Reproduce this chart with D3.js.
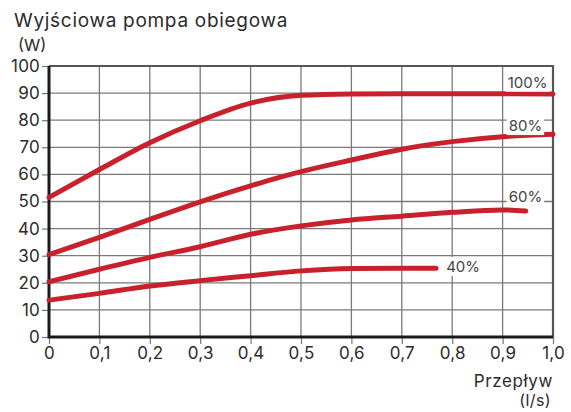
<!DOCTYPE html>
<html>
<head>
<meta charset="utf-8">
<script src="https://cdn.jsdelivr.net/npm/d3@7"></script>
<style>
  body { margin: 0; background: #fff; }
  svg text { font-family: Inter, "Open Sans", sans-serif; fill: #2b2b2b; }
</style>
</head>
<body>
<svg id="chart" width="571" height="412"></svg>
<script>
// flow (l/s) and pump output (W)
const flow = [0, 0.1, 0.2, 0.3, 0.4, 0.5, 0.6, 0.7, 0.8, 0.9, 1.0];
const p100 = [51.5, 61.8, 71.7, 79.8, 86.3, 89.2, 89.7, 89.8, 89.8, 89.8, 89.7];
const p80 = [30.4, 36.8, 43.4, 49.9, 55.8, 61.0, 65.3, 69.3, 72.1, 73.9, 74.8];
const flow60 = [0, 0.1, 0.2, 0.3, 0.4, 0.5, 0.6, 0.7, 0.8, 0.9, 0.946];
const p60 = [20.4, 25.0, 29.4, 33.3, 37.9, 41.0, 43.2, 44.6, 46.0, 46.9, 46.5];
const flow40 = [0, 0.1, 0.2, 0.3, 0.4, 0.5, 0.6, 0.7, 0.768];
const p40 = [13.6, 16.1, 18.8, 20.8, 22.6, 24.4, 25.3, 25.4, 25.4];

const xTicks = [0, 0.1, 0.2, 0.3, 0.4, 0.5, 0.6, 0.7, 0.8, 0.9, 1.0];
const xTickLabels = ["0", "0,1", "0,2", "0,3", "0,4", "0,5", "0,6", "0,7", "0,8", "0,9", "1,0"];
const yTicks = [0, 10, 20, 30, 40, 50, 60, 70, 80, 90, 100];

const series = [
  { name: "100%", xs: flow, ys: p100 },
  { name: "80%", xs: flow, ys: p80 },
  { name: "60%", xs: flow60, ys: p60 },
  { name: "40%", xs: flow40, ys: p40 }
];

const svg = d3.select("#chart");
const x = d3.scaleLinear().domain([0, 1]).range([49, 553]);
const y = d3.scaleLinear().domain([0, 100]).range([337, 66]);

// grid
const grid = svg.append("g").attr("stroke", "#7a7a7a").attr("stroke-width", 1.3);
xTicks.slice(1, -1).forEach(v => {
  grid.append("line").attr("x1", x(v)).attr("x2", x(v)).attr("y1", y(0)).attr("y2", y(100));
});
yTicks.slice(1, -1).forEach(v => {
  grid.append("line").attr("x1", x(0)).attr("x2", x(1)).attr("y1", y(v)).attr("y2", y(v));
});

// frame top/right
svg.append("path")
  .attr("d", `M${x(0)},${y(100)}H${x(1)}V${y(0)}`)
  .attr("fill", "none").attr("stroke", "#555").attr("stroke-width", 2.2);

// axes
const yAxis = svg.append("g").attr("transform", `translate(${x(0)},0)`)
  .call(d3.axisLeft(y).tickValues(yTicks).tickSize(7).tickPadding(2));
const xAxis = svg.append("g").attr("transform", `translate(0,${y(0)})`)
  .call(d3.axisBottom(x).tickValues(xTicks).tickFormat((d, i) => xTickLabels[i]).tickSize(7).tickPadding(3));
[yAxis, xAxis].forEach(a => {
  a.select(".domain").remove();
  a.selectAll(".tick line").attr("stroke", "#777").attr("stroke-width", 1.2);
  a.selectAll(".tick text").attr("font-size", 17).style("fill", "#2b2b2b").style("letter-spacing", "0.2px");
});

svg.append("path")
  .attr("d", `M${x(0)},${y(100)}V${y(0)}H${x(1)}`)
  .attr("fill", "none").attr("stroke", "#1a1a1a").attr("stroke-width", 3);

// curves
const line = d3.line().curve(d3.curveMonotoneX);
series.forEach(s => {
  svg.append("path")
    .attr("d", line(s.xs.map((v, i) => [x(v), y(s.ys[i])])))
    .attr("fill", "none")
    .attr("stroke", "#c8212b")
    .attr("stroke-width", 5)
    .attr("stroke-linecap", "round");
});

// series labels with white boxes
const labels = [
  { text: "100%", lx: 0.91, ly: 93.5 },
  { text: "80%", lx: 0.912, ly: 77.5 },
  { text: "60%", lx: 0.912, ly: 51.5 },
  { text: "40%", lx: 0.788, ly: 25.5 }
];
labels.forEach(l => {
  const g = svg.append("g");
  const t = g.append("text")
    .attr("x", x(l.lx)).attr("y", y(l.ly))
    .attr("font-size", 15).attr("dominant-baseline", "middle")
    .style("fill", "#444")
    .text(l.text);
  const b = t.node().getBBox();
  g.insert("rect", "text")
    .attr("x", b.x - 2).attr("y", b.y).attr("width", b.width + 4).attr("height", b.height)
    .attr("fill", "#fff");
});

// titles
svg.append("text").attr("x", 14).attr("y", 27).attr("font-size", 19).style("letter-spacing", "0.7px").text("Wyjściowa pompa obiegowa");
svg.append("text").attr("x", 18).attr("y", 51).attr("font-size", 16.5).text("(W)");
svg.append("text").attr("x", 553).attr("y", 387).attr("font-size", 17).style("letter-spacing", "0.6px").attr("text-anchor", "end").text("Przepływ");
svg.append("text").attr("x", 551).attr("y", 406).attr("font-size", 16).style("letter-spacing", "0.4px").attr("text-anchor", "end").text("(l/s)");
</script>
</body>
</html>
